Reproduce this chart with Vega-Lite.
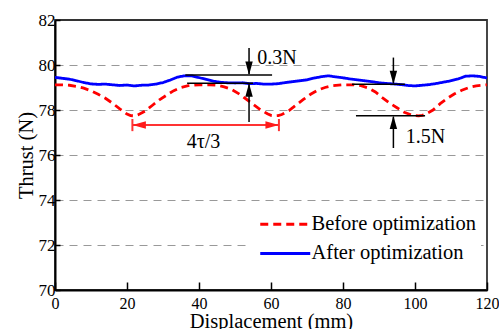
{
  "$schema": "https://vega.github.io/schema/vega-lite/v6.json",
  "width": 432,
  "height": 270,
  "autosize": {"type": "none"},
  "padding": {"left": 55, "top": 20, "right": 12, "bottom": 39},
  "background": "white",
  "config": {
    "font": "Liberation Serif",
    "view": {"stroke": "#333", "strokeWidth": 1.8}
  },
  "datasets": {
    "curves": [
      {"x": 0, "thrust": 79.12, "series": "Before optimization"},
      {"x": 2, "thrust": 79.12, "series": "Before optimization"},
      {"x": 4, "thrust": 79.1, "series": "Before optimization"},
      {"x": 6, "thrust": 79.05, "series": "Before optimization"},
      {"x": 8, "thrust": 78.97, "series": "Before optimization"},
      {"x": 10, "thrust": 78.85, "series": "Before optimization"},
      {"x": 12, "thrust": 78.7, "series": "Before optimization"},
      {"x": 14, "thrust": 78.52, "series": "Before optimization"},
      {"x": 16, "thrust": 78.3, "series": "Before optimization"},
      {"x": 18, "thrust": 78.05, "series": "Before optimization"},
      {"x": 20, "thrust": 77.82, "series": "Before optimization"},
      {"x": 21, "thrust": 77.75, "series": "Before optimization"},
      {"x": 22, "thrust": 77.74, "series": "Before optimization"},
      {"x": 23, "thrust": 77.78, "series": "Before optimization"},
      {"x": 25, "thrust": 77.95, "series": "Before optimization"},
      {"x": 27, "thrust": 78.2, "series": "Before optimization"},
      {"x": 29, "thrust": 78.45, "series": "Before optimization"},
      {"x": 31, "thrust": 78.66, "series": "Before optimization"},
      {"x": 33, "thrust": 78.86, "series": "Before optimization"},
      {"x": 35, "thrust": 79.0, "series": "Before optimization"},
      {"x": 37, "thrust": 79.08, "series": "Before optimization"},
      {"x": 40, "thrust": 79.12, "series": "Before optimization"},
      {"x": 43, "thrust": 79.12, "series": "Before optimization"},
      {"x": 45, "thrust": 79.1, "series": "Before optimization"},
      {"x": 47, "thrust": 79.03, "series": "Before optimization"},
      {"x": 49, "thrust": 78.92, "series": "Before optimization"},
      {"x": 51, "thrust": 78.73, "series": "Before optimization"},
      {"x": 53, "thrust": 78.5, "series": "Before optimization"},
      {"x": 55, "thrust": 78.26, "series": "Before optimization"},
      {"x": 57, "thrust": 78.02, "series": "Before optimization"},
      {"x": 59, "thrust": 77.83, "series": "Before optimization"},
      {"x": 60, "thrust": 77.76, "series": "Before optimization"},
      {"x": 61, "thrust": 77.74, "series": "Before optimization"},
      {"x": 62, "thrust": 77.75, "series": "Before optimization"},
      {"x": 63, "thrust": 77.8, "series": "Before optimization"},
      {"x": 65, "thrust": 77.97, "series": "Before optimization"},
      {"x": 67, "thrust": 78.22, "series": "Before optimization"},
      {"x": 69, "thrust": 78.47, "series": "Before optimization"},
      {"x": 71, "thrust": 78.7, "series": "Before optimization"},
      {"x": 73, "thrust": 78.88, "series": "Before optimization"},
      {"x": 75, "thrust": 79.0, "series": "Before optimization"},
      {"x": 77, "thrust": 79.08, "series": "Before optimization"},
      {"x": 80, "thrust": 79.12, "series": "Before optimization"},
      {"x": 83, "thrust": 79.12, "series": "Before optimization"},
      {"x": 85, "thrust": 79.08, "series": "Before optimization"},
      {"x": 87, "thrust": 78.98, "series": "Before optimization"},
      {"x": 89, "thrust": 78.8, "series": "Before optimization"},
      {"x": 91, "thrust": 78.54, "series": "Before optimization"},
      {"x": 93, "thrust": 78.3, "series": "Before optimization"},
      {"x": 95, "thrust": 78.1, "series": "Before optimization"},
      {"x": 97, "thrust": 77.9, "series": "Before optimization"},
      {"x": 99, "thrust": 77.78, "series": "Before optimization"},
      {"x": 100, "thrust": 77.75, "series": "Before optimization"},
      {"x": 101, "thrust": 77.74, "series": "Before optimization"},
      {"x": 102, "thrust": 77.76, "series": "Before optimization"},
      {"x": 103, "thrust": 77.82, "series": "Before optimization"},
      {"x": 105, "thrust": 78.0, "series": "Before optimization"},
      {"x": 107, "thrust": 78.28, "series": "Before optimization"},
      {"x": 109, "thrust": 78.52, "series": "Before optimization"},
      {"x": 111, "thrust": 78.72, "series": "Before optimization"},
      {"x": 113, "thrust": 78.88, "series": "Before optimization"},
      {"x": 115, "thrust": 79.0, "series": "Before optimization"},
      {"x": 117, "thrust": 79.07, "series": "Before optimization"},
      {"x": 120, "thrust": 79.12, "series": "Before optimization"},
      {"x": 0, "thrust": 79.45, "series": "After optimization"},
      {"x": 2, "thrust": 79.41, "series": "After optimization"},
      {"x": 4, "thrust": 79.37, "series": "After optimization"},
      {"x": 6, "thrust": 79.3, "series": "After optimization"},
      {"x": 8, "thrust": 79.22, "series": "After optimization"},
      {"x": 10, "thrust": 79.16, "series": "After optimization"},
      {"x": 12, "thrust": 79.14, "series": "After optimization"},
      {"x": 14, "thrust": 79.15, "series": "After optimization"},
      {"x": 16, "thrust": 79.12, "series": "After optimization"},
      {"x": 18, "thrust": 79.09, "series": "After optimization"},
      {"x": 20, "thrust": 79.11, "series": "After optimization"},
      {"x": 22, "thrust": 79.07, "series": "After optimization"},
      {"x": 24, "thrust": 79.1, "series": "After optimization"},
      {"x": 26, "thrust": 79.11, "series": "After optimization"},
      {"x": 28, "thrust": 79.15, "series": "After optimization"},
      {"x": 30, "thrust": 79.22, "series": "After optimization"},
      {"x": 32, "thrust": 79.33, "series": "After optimization"},
      {"x": 34, "thrust": 79.46, "series": "After optimization"},
      {"x": 36, "thrust": 79.52, "series": "After optimization"},
      {"x": 38, "thrust": 79.52, "series": "After optimization"},
      {"x": 40, "thrust": 79.44, "series": "After optimization"},
      {"x": 42, "thrust": 79.36, "series": "After optimization"},
      {"x": 44, "thrust": 79.28, "series": "After optimization"},
      {"x": 46, "thrust": 79.23, "series": "After optimization"},
      {"x": 48, "thrust": 79.21, "series": "After optimization"},
      {"x": 50, "thrust": 79.2, "series": "After optimization"},
      {"x": 52, "thrust": 79.21, "series": "After optimization"},
      {"x": 54, "thrust": 79.17, "series": "After optimization"},
      {"x": 56, "thrust": 79.18, "series": "After optimization"},
      {"x": 58, "thrust": 79.15, "series": "After optimization"},
      {"x": 60, "thrust": 79.15, "series": "After optimization"},
      {"x": 62, "thrust": 79.17, "series": "After optimization"},
      {"x": 64, "thrust": 79.22, "series": "After optimization"},
      {"x": 66, "thrust": 79.26, "series": "After optimization"},
      {"x": 68, "thrust": 79.3, "series": "After optimization"},
      {"x": 70, "thrust": 79.34, "series": "After optimization"},
      {"x": 72, "thrust": 79.42, "series": "After optimization"},
      {"x": 74, "thrust": 79.48, "series": "After optimization"},
      {"x": 76, "thrust": 79.52, "series": "After optimization"},
      {"x": 78, "thrust": 79.47, "series": "After optimization"},
      {"x": 80, "thrust": 79.43, "series": "After optimization"},
      {"x": 82, "thrust": 79.38, "series": "After optimization"},
      {"x": 84, "thrust": 79.34, "series": "After optimization"},
      {"x": 86, "thrust": 79.3, "series": "After optimization"},
      {"x": 88, "thrust": 79.26, "series": "After optimization"},
      {"x": 90, "thrust": 79.21, "series": "After optimization"},
      {"x": 92, "thrust": 79.18, "series": "After optimization"},
      {"x": 94, "thrust": 79.16, "series": "After optimization"},
      {"x": 96, "thrust": 79.13, "series": "After optimization"},
      {"x": 98, "thrust": 79.09, "series": "After optimization"},
      {"x": 100, "thrust": 79.07, "series": "After optimization"},
      {"x": 102, "thrust": 79.1, "series": "After optimization"},
      {"x": 104, "thrust": 79.13, "series": "After optimization"},
      {"x": 106, "thrust": 79.18, "series": "After optimization"},
      {"x": 108, "thrust": 79.24, "series": "After optimization"},
      {"x": 110, "thrust": 79.3, "series": "After optimization"},
      {"x": 112, "thrust": 79.38, "series": "After optimization"},
      {"x": 114, "thrust": 79.5, "series": "After optimization"},
      {"x": 116, "thrust": 79.52, "series": "After optimization"},
      {"x": 118, "thrust": 79.49, "series": "After optimization"},
      {"x": 120, "thrust": 79.42, "series": "After optimization"}
    ],
    "guides": [
      {"x": 36.2, "x2": 60.3, "thrust": 79.56, "thrust2": 79.56, "kind": "dim"},
      {"x": 36.7, "x2": 55.0, "thrust": 79.19, "thrust2": 79.19, "kind": "dim"},
      {"x": 53.9, "x2": 53.9, "thrust": 80.76, "thrust2": 79.6, "kind": "dim"},
      {"x": 53.9, "x2": 53.9, "thrust": 77.47, "thrust2": 79.15, "kind": "dim"},
      {"x": 82.5, "x2": 97.2, "thrust": 79.14, "thrust2": 79.14, "kind": "dim"},
      {"x": 83.6, "x2": 102.8, "thrust": 77.75, "thrust2": 77.75, "kind": "dim"},
      {"x": 94.0, "x2": 94.0, "thrust": 80.33, "thrust2": 79.2, "kind": "dim"},
      {"x": 94.0, "x2": 94.0, "thrust": 76.31, "thrust2": 77.7, "kind": "dim"},
      {"x": 21.5, "x2": 62.2, "thrust": 77.33, "thrust2": 77.33, "kind": "period"},
      {"x": 21.5, "x2": 21.5, "thrust": 77.06, "thrust2": 77.6, "kind": "period"},
      {"x": 62.2, "x2": 62.2, "thrust": 77.06, "thrust2": 77.6, "kind": "period"}
    ],
    "heads": [
      {"x": 53.9, "thrust": 79.56, "dir": "down"},
      {"x": 53.9, "thrust": 79.19, "dir": "up"},
      {"x": 94.0, "thrust": 79.14, "dir": "down"},
      {"x": 94.0, "thrust": 77.75, "dir": "up"},
      {"x": 21.5, "thrust": 77.33, "dir": "left"},
      {"x": 62.2, "thrust": 77.33, "dir": "right"}
    ],
    "notes": [
      {"x": 56.2, "thrust": 80.04, "label": "0.3N"},
      {"x": 97.4, "thrust": 76.52, "label": "1.5N"},
      {"x": 36.6, "thrust": 76.3, "label": "4τ/3"}
    ]
  },
  "layer": [
    {
      "data": {"name": "curves"},
      "mark": {"type": "line", "strokeWidth": 2.8},
      "encoding": {
        "x": {
          "field": "x", "type": "quantitative",
          "scale": {"domain": [0, 120], "nice": false},
          "title": "Displacement (mm)",
          "axis": {
            "values": [0, 20, 40, 60, 80, 100, 120],
            "grid": false,
            "tickSize": -8, "tickColor": "black", "tickWidth": 1.5,
            "domainColor": "black", "domainWidth": 2,
            "labelFontSize": 16, "labelColor": "black", "labelPadding": 13,
            "labelFlush": false,
            "titleFontSize": 20.5, "titleFontWeight": "normal", "titleColor": "black", "titlePadding": 0
          }
        },
        "y": {
          "field": "thrust", "type": "quantitative",
          "scale": {"domain": [70, 82], "nice": false},
          "title": "Thrust (N)",
          "axis": {
            "values": [70, 72, 74, 76, 78, 80, 82],
            "grid": true, "gridDash": [8, 6], "gridColor": "#999", "gridWidth": 1.2,
            "gridOpacity": {"condition": {"test": "datum.value == 70 || datum.value == 82", "value": 0}, "value": 1},
            "tickSize": -5, "tickColor": "black", "tickWidth": 1.5,
            "domainColor": "black", "domainWidth": 2,
            "labelFontSize": 17, "labelColor": "black", "labelPadding": 5,
            "labelFlush": false,
            "titleFontSize": 20.5, "titleFontWeight": "normal", "titleColor": "black", "titlePadding": 2
          }
        },
        "color": {
          "field": "series", "type": "nominal",
          "scale": {"domain": ["Before optimization", "After optimization"], "range": ["#ff0000", "#0000ff"]},
          "legend": {
            "title": null, "orient": "none", "legendX": 196, "legendY": 190,
            "symbolType": "M-1,0H9", "symbolSize": 100, "symbolStrokeWidth": 3,
            "labelFontSize": 20.5, "labelFont": "Liberation Serif", "labelColor": "black",
            "labelOffset": 36, "rowPadding": 8.2, "fillColor": "white", "padding": 4, "labelLimit": 0
          }
        },
        "strokeDash": {
          "field": "series", "type": "nominal",
          "scale": {"domain": ["Before optimization", "After optimization"], "range": [[8, 5], [1, 0]]},
          "legend": {
            "title": null, "orient": "none", "legendX": 196, "legendY": 190,
            "symbolType": "M-1,0H9", "symbolSize": 100, "symbolStrokeWidth": 3,
            "labelFontSize": 20.5, "labelFont": "Liberation Serif", "labelColor": "black",
            "labelOffset": 36, "rowPadding": 8.2, "fillColor": "white", "padding": 4, "labelLimit": 0
          }
        }
      }
    },
    {
      "data": {"name": "guides"},
      "transform": [{"filter": "datum.kind == 'dim'"}],
      "mark": {"type": "rule", "color": "black", "strokeWidth": 1.5},
      "encoding": {
        "x": {"field": "x", "type": "quantitative", "title": "Displacement (mm)"},
        "x2": {"field": "x2"},
        "y": {"field": "thrust", "type": "quantitative", "title": "Thrust (N)"},
        "y2": {"field": "thrust2"}
      }
    },
    {
      "data": {"name": "guides"},
      "transform": [{"filter": "datum.kind == 'period'"}],
      "mark": {"type": "rule", "color": "#ff3333", "strokeWidth": 2},
      "encoding": {
        "x": {"field": "x", "type": "quantitative", "title": "Displacement (mm)"},
        "x2": {"field": "x2"},
        "y": {"field": "thrust", "type": "quantitative", "title": "Thrust (N)"},
        "y2": {"field": "thrust2"}
      }
    },
    {
      "data": {"name": "heads"},
      "transform": [{"filter": "datum.dir == 'down'"}],
      "mark": {"type": "point", "shape": "M-0.55,-2L0.55,-2L0,0Z", "filled": true, "size": 182, "color": "black", "opacity": 1},
      "encoding": {
        "x": {"field": "x", "type": "quantitative", "title": "Displacement (mm)"},
        "y": {"field": "thrust", "type": "quantitative", "title": "Thrust (N)"}
      }
    },
    {
      "data": {"name": "heads"},
      "transform": [{"filter": "datum.dir == 'up'"}],
      "mark": {"type": "point", "shape": "M-0.55,2L0.55,2L0,0Z", "filled": true, "size": 182, "color": "black", "opacity": 1},
      "encoding": {
        "x": {"field": "x", "type": "quantitative", "title": "Displacement (mm)"},
        "y": {"field": "thrust", "type": "quantitative", "title": "Thrust (N)"}
      }
    },
    {
      "data": {"name": "heads"},
      "transform": [{"filter": "datum.dir == 'left'"}],
      "mark": {"type": "point", "shape": "M2,-0.55L2,0.55L0,0Z", "filled": true, "size": 182, "color": "#ff1a1a", "opacity": 1},
      "encoding": {
        "x": {"field": "x", "type": "quantitative", "title": "Displacement (mm)"},
        "y": {"field": "thrust", "type": "quantitative", "title": "Thrust (N)"}
      }
    },
    {
      "data": {"name": "heads"},
      "transform": [{"filter": "datum.dir == 'right'"}],
      "mark": {"type": "point", "shape": "M-2,-0.55L-2,0.55L0,0Z", "filled": true, "size": 182, "color": "#ff1a1a", "opacity": 1},
      "encoding": {
        "x": {"field": "x", "type": "quantitative", "title": "Displacement (mm)"},
        "y": {"field": "thrust", "type": "quantitative", "title": "Thrust (N)"}
      }
    },
    {
      "data": {"name": "notes"},
      "mark": {"type": "text", "align": "left", "baseline": "alphabetic", "fontSize": 20, "font": "Liberation Serif", "color": "black"},
      "encoding": {
        "x": {"field": "x", "type": "quantitative", "title": "Displacement (mm)"},
        "y": {"field": "thrust", "type": "quantitative", "title": "Thrust (N)"},
        "text": {"field": "label"}
      }
    }
  ]
}
